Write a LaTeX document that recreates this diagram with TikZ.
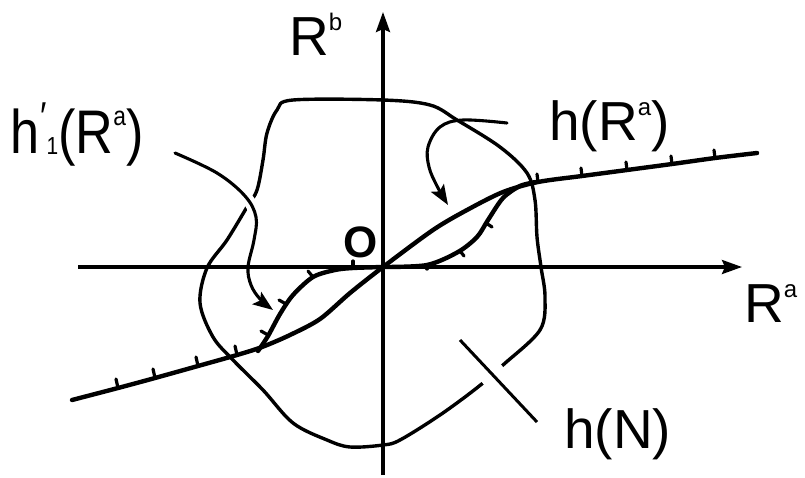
\documentclass[tikz,border=0pt]{standalone}
\usepackage{fontspec}
\setmainfont{Liberation Sans}
\usetikzlibrary{arrows.meta}
\newcommand\supx[1]{\raisebox{0.45em}{\fontsize{24}{24}\selectfont #1}}
\newcommand\subx[1]{\raisebox{-0.02em}{\fontsize{22}{22}\selectfont #1}}
\begin{document}
\begin{tikzpicture}[x=1pt,y=-1pt,
  lbl/.style={inner sep=0pt, font=\fontsize{55}{60}\selectfont, anchor=base west},
  blobline/.style={line width=3.4pt, line cap=round, line join=round},
  maincurve/.style={line width=4.4pt, line cap=round, line join=round},
  tickmark/.style={line width=3.2pt, line cap=round},
  ptr/.style={line width=3.1pt, line cap=round, -{Stealth[length=20pt,width=15pt,inset=4pt]}},
  axisarrow/.style={line width=3.2pt, -{Stealth[length=20pt,width=14pt,inset=3pt]}}]
\useasboundingbox (0,0) rectangle (805,477);

% labels
\node[lbl] (Rb) at (289,55) {R\supx{b}};
\node[lbl] (Ra) at (744,322) {R\supx{a}};
\node[lbl] (hRa) at (549,140) {h(R\supx{a})};
\node[lbl] (h1Ra) at (10,153) {\scalebox{0.95}[1.12]{h\kern1pt\raisebox{0.36em}{\fontsize{36}{36}\selectfont ′}\subx{1}(R\supx{a})}};
\node[lbl] (hN) at (564,448) {h(N)};
\node[inner sep=0pt, font=\fontsize{44}{44}\selectfont\bfseries] (O) at (361,242) {O};

% region h(N)
\draw[blobline] plot[smooth cycle, tension=0.55] coordinates {
 (293,100) (383,100) (430,105) (457,120) (500,147) (527,173) (535,200) (537,237)
 (541,267) (545,297) (540,330) (503,365) (478,387) (440,415) (400,440) (383,445)
 (350,447) (327,440) (293,423) (263,390) (233,360) (213,337) (200,303) (207,268)
 (227,240) (247,207) (257,190) (263,160) (267,133) (277,110)};

% pointer arrows
\coordinate (p1s) at (175,153);
\coordinate (p1e) at (273,310);
\draw[ptr, preaction={draw=white, line width=12pt, -}] plot[smooth, tension=0.6] coordinates {
 (p1s) (217,173) (245,196) (256,217) (254,240) (248,267) (251,285) (260,299) (p1e)};
\coordinate (p2s) at (507,123);
\coordinate (p2e) at (448,205);
\draw[ptr] plot[smooth, tension=0.6] coordinates {
 (p2s) (463,120) (440,127) (428,147) (429,167) (437,186) (p2e)};
\coordinate (p3s) at (460,340);
\coordinate (p3e) at (537,422);
\draw[line width=3pt, preaction={draw=white, line width=26pt}] (p3s) -- (p3e);

% axes
\coordinate (xl) at (78,267);
\coordinate (xr) at (742,267);
\coordinate (yb) at (383,475);
\coordinate (yt) at (383,12);
\draw[axisarrow] (xl) -- (xr);
\draw[axisarrow] (yb) -- (yt);

% main curve h(R^a)
\draw[maincurve] plot[smooth, tension=0.5] coordinates {
 (72,400) (118,388) (155,378) (198,366) (237,355) (262,347) (290,335) (320,319)
 (350,293) (383,267) (433,230) (467,210) (503,192) (538,182) (582,176) (627,170)
 (672,164) (715,158) (757,153)};

% curve h'_1(R^a)
\draw[maincurve] plot[smooth, tension=0.5] coordinates {
 (258,351) (268,336) (280,314) (293,295) (313,277) (335,270) (353,268) (383,267)};
\draw[maincurve] plot[smooth, tension=0.5] coordinates {
 (383,267) (427,265) (458,252) (477,237) (488,220) (503,198) (520,186) (536,182)};

% ticks on main curve
\foreach \x/\y in {118/388, 155/378, 198/366, 237/355}
  \draw[tickmark] (\x,\y) -- ++(-2,-9);
\foreach \x/\y in {538/182, 582/176, 627/170, 672/164, 715/158}
  \draw[tickmark] (\x,\y) -- ++(-1,-8);
% ticks on h'_1 curve
\draw[tickmark] (268,335) -- ++(-7,-4);
\draw[tickmark] (286,304) -- ++(-7,-4);
\draw[tickmark] (313,277) -- ++(-5,-6);
\draw[tickmark] (353,268) -- ++(0,-7);
\draw[tickmark] (427,265) -- ++(0,4);
\draw[tickmark] (460,251) -- ++(4,5);
\draw[tickmark] (486,223) -- ++(6,4);
\end{tikzpicture}
\end{document}
